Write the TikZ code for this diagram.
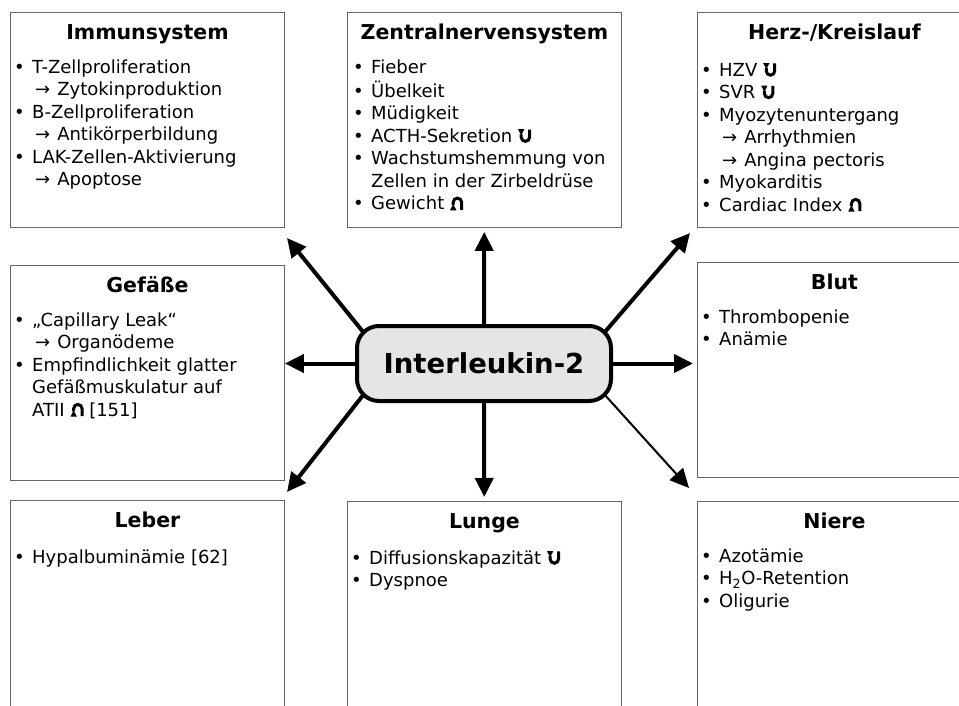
\documentclass[tikz,border=0pt]{standalone}
\usepackage{fontspec}
\setmainfont{DejaVu Sans}
\usetikzlibrary{positioning,arrows.meta,backgrounds}

\newcommand{\pkt}{\strut\makebox[18pt][l]{•}}
\newcommand{\ein}{\hspace*{18pt}}
\newcommand{\folge}{\hspace*{21pt}→\hspace{7pt}}
\newcommand{\ab}{\tikz[baseline=0pt,x=1pt,y=1pt]{\fill (-1.4,13.2) -- (5,13.2) -- (1.8,7) -- cycle;
  \draw[line width=3pt] (1.8,8) -- (1.8,5.2) arc[start angle=180,end angle=360,radius=4.2] -- (10.2,12.8);}}
\newcommand{\auf}{\tikz[baseline=0pt,x=1pt,y=1pt]{\fill (-1.4,-0.4) -- (5,-0.4) -- (1.8,5.8) -- cycle;
  \draw[line width=3pt] (1.8,4.8) -- (1.8,7.6) arc[start angle=180,end angle=0,radius=4.2] -- (10.2,0);}}

\tikzset{
  organ/.style={draw=black!60, line width=0.9pt, anchor=north west, minimum width=274pt, minimum height=215pt, inner sep=0pt},
  titel/.style={font=\fontsize{20.5}{25}\selectfont\bfseries, inner sep=0pt, text height=15pt, text depth=5pt},
  liste/.style={font=\fontsize{18}{22.5}\selectfont, align=left, inner sep=0pt},
  il/.style={draw, line width=4pt, rounded corners=22pt, fill=black!10, minimum width=254pt, minimum height=75pt, font=\fontsize{27.5}{32}\selectfont\bfseries},
  pfeil/.style={line width=4pt, -{Triangle[length=19pt,width=18pt]}}
}

\begin{document}
\begin{tikzpicture}[x=1pt,y=-1pt]
\path[use as bounding box, clip] (0,0) rectangle (959,706);
\foreach \name/\x/\y/\titel in {immun/10/12/Immunsystem, zns/347/12/Zentralnervensystem, herz/697/12/{Herz-/Kreislauf}, gefaesse/10/265/Gefäße, blut/697/262/Blut, leber/10/500/Leber, lunge/347/501/Lunge, niere/697/501/Niere}
{
  \node[organ] (\name) at (\x,\y) {};
  \node[titel, below=12.5pt of \name.north] (\name-titel) {\titel};
}

\node[liste, below right=45.25pt and 4pt of immun.north west] (immun-liste) {\pkt T-Zellproliferation\\ \folge Zytokinproduktion\\ \pkt B-Zellproliferation\\ \folge Antikörperbildung\\ \pkt LAK-Zellen-Aktivierung\\ \folge Apoptose};
\node[liste, below right=45.25pt and 6pt of zns.north west] (zns-liste) {\pkt Fieber\\ \pkt Übelkeit\\ \pkt Müdigkeit\\ \pkt ACTH-Sekretion \ab\\ \pkt Wachstumshemmung von\\ \ein Zellen in der Zirbeldrüse\\ \pkt Gewicht \auf};
\node[liste, below right=48.25pt and 4pt of herz.north west] (herz-liste) {\pkt HZV \ab\\ \pkt SVR \ab\\ \pkt Myozytenuntergang\\ \folge Arrhythmien\\ \folge Angina pectoris\\ \pkt Myokarditis\\ \pkt Cardiac Index \auf};
\node[liste, below right=45.25pt and 4pt of gefaesse.north west] (gefaesse-liste) {\pkt „Capillary Leak“\\ \folge Organödeme\\ \pkt Empfindlichkeit glatter\\ \ein Gefäßmuskulatur auf\\ \ein ATII \auf{} [151]};
\node[liste, below right=45.25pt and 4pt of blut.north west] (blut-liste) {\pkt Thrombopenie\\ \pkt Anämie};
\node[liste, below right=47.25pt and 4pt of leber.north west] (leber-liste) {\pkt Hypalbuminämie [62]};
\node[liste, below right=47.25pt and 4pt of lunge.north west] (lunge-liste) {\pkt Diffusionskapazität \ab\\ \pkt Dyspnoe};
\node[liste, below right=45.25pt and 4pt of niere.north west] (niere-liste) {\pkt Azotämie\\ \pkt H\textsubscript{2}O-Retention\\ \pkt Oligurie};

\node[il] (il2) at (484,363.5) {Interleukin-2};
\coordinate (ol) at (287,238);
\coordinate (or) at (690,233);
\coordinate (ul) at (287,492);
\coordinate (ur) at (689,488);

\begin{scope}[on background layer]
  \draw[pfeil, shorten >=4pt] (il2) -- (zns);
  \draw[pfeil, shorten >=4pt] (il2) -- (lunge);
  \draw[pfeil] (il2) -- (il2 -| gefaesse.east);
  \draw[pfeil, shorten >=4pt] (il2) -- (il2 -| blut.west);
  \draw[pfeil] ([shift={(9,9)}]il2.north west) -- (ol);
  \draw[pfeil] ([shift={(-9,9)}]il2.north east) -- (or);
  \draw[pfeil] ([shift={(9,-9)}]il2.south west) -- (ul);
  \draw[pfeil, line width=2pt] ([shift={(-9,-9)}]il2.south east) -- (ur);
\end{scope}
\end{tikzpicture}
\end{document}
